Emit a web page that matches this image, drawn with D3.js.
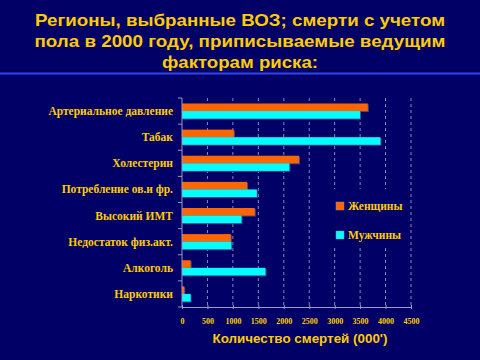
<!DOCTYPE html>
<html><head><meta charset="utf-8">
<script src="https://cdn.jsdelivr.net/npm/d3@7"></script>
<style>html,body{margin:0;padding:0;background:#000066;}svg{display:block;}</style>
</head><body>
<svg id="c" width="480" height="360"></svg>
<script>
const categories = ["Артериальное давление","Табак","Холестерин","Потребление ов.и фр.","Высокий ИМТ","Недостаток физ.акт.","Алкоголь","Наркотики"];
const women = [3650, 1020, 2300, 1280, 1430, 960, 170, 45];
const men = [3500, 3900, 2110, 1470, 1170, 970, 1640, 170];
const seriesNames = ["Женщины","Мужчины"];
const xTicks = [0,500,1000,1500,2000,2500,3000,3500,4000,4500];
const titleLines = ["Регионы, выбранные ВОЗ; смерти с учетом","пола в 2000 году, приписываемые ведущим","факторам риска:"];
const xTitle = "Количество смертей (000')";

const gold = "#FFCC00", orange = "#FF6600", cyan = "#00FFFF";
const svg = d3.select("#c");
svg.append("rect").attr("width",480).attr("height",360).attr("fill","#000066");

// title
const titleW = [410, 411, 156];
svg.append("g").selectAll("text").data(titleLines).join("text")
  .attr("x",240).attr("y",(d,i)=>25.5+i*21).attr("text-anchor","middle")
  .attr("font-family","Liberation Sans, Arial, sans-serif").attr("font-weight","bold")
  .attr("font-size",17).attr("fill",gold)
  .attr("textLength",(d,i)=>titleW[i]).attr("lengthAdjust","spacingAndGlyphs").text(d=>d);
svg.append("rect").attr("x",0).attr("y",72.5).attr("width",480).attr("height",2).attr("fill","#3344EE");

const x0=182, x1=411, yTop=98, yBot=307;
const x = d3.scaleLinear().domain([0,4500]).range([x0,x1]);
const y = d3.scaleBand().domain(categories).range([yTop,yBot]).paddingInner(0.42).paddingOuter(0.21);

// gridlines
const grid = svg.append("g");
xTicks.filter(t=>t>0).forEach(t=>{
  const gx = x(t);
  const segs = (t>=3000 && t<=4000) ? [[yTop,189],[248,yBot]] : [[yTop,yBot]];
  segs.forEach(s=>grid.append("line").attr("x1",gx).attr("x2",gx).attr("y1",s[0]).attr("y2",s[1])
    .attr("stroke","#8888BB").attr("stroke-width",1).attr("stroke-dasharray","3,3"));
});

// bars
const bh = y.bandwidth()/2;
const bars = svg.append("g");
categories.forEach((c,i)=>{
  [[women[i],orange,0],[men[i],cyan,1]].forEach(([v,col,k])=>{
    const by = y(c)+k*bh;
    bars.append("rect").attr("x",x(0)+1).attr("y",by+1).attr("width",x(v)-x(0)).attr("height",bh)
      .attr("fill","#444488");
    bars.append("rect").attr("x",x(0)).attr("y",by).attr("width",x(v)-x(0)).attr("height",bh)
      .attr("fill",col);
  });
});

// y axis
const yAxis = d3.axisLeft(y).tickSize(0).tickFormat("");
const ya = svg.append("g").attr("transform",`translate(${x0},0)`).call(yAxis);
ya.select(".domain").attr("stroke","#9999CC").attr("d",`M0,${yTop}V${yBot}`);
const bounds = d3.range(0,categories.length+1).map(i=>yTop+i*(yBot-yTop)/categories.length);
svg.append("g").selectAll("line").data(bounds).join("line")
  .attr("x1",x0-4).attr("x2",x0).attr("y1",d=>d).attr("y2",d=>d).attr("stroke","#9999CC");
svg.append("g").selectAll("text").data(categories).join("text")
  .attr("x",173).attr("y",d=>y(d)+y.bandwidth()/2+4).attr("text-anchor","end")
  .attr("font-family","Liberation Serif, Times New Roman, serif").attr("font-weight","bold")
  .attr("font-size",11.5).attr("fill",gold).text(d=>d);

// x axis
const xAxis = d3.axisBottom(x).tickValues(xTicks).tickSize(4).tickSizeOuter(0).tickFormat(d3.format("d"));
const xa = svg.append("g").attr("transform",`translate(0,${yBot})`).call(xAxis);
xa.select(".domain").attr("stroke","#9999CC");
xa.selectAll(".tick line").attr("stroke","#9999CC").attr("y1",-2).attr("y2",2);
xa.selectAll(".tick text").attr("fill",gold).attr("y",11)
  .attr("font-family","Liberation Serif, Times New Roman, serif").attr("font-weight","bold").attr("font-size",8);

svg.append("text").attr("x",300).attr("y",343).attr("text-anchor","middle")
  .attr("font-family","Liberation Sans, Arial, sans-serif").attr("font-weight","bold")
  .attr("font-size",13.4).attr("fill",gold).text(xTitle);

// legend
const leg = svg.append("g");
[[orange,202],[cyan,231]].forEach(([col,ly],i)=>{
  leg.append("rect").attr("x",336).attr("y",ly).attr("width",8).attr("height",8).attr("fill",col).attr("stroke","#8888AA").attr("stroke-width",0.5);
  leg.append("text").attr("x",348).attr("y",ly+8).attr("font-family","Liberation Serif, Times New Roman, serif")
    .attr("font-weight","bold").attr("font-size",11.5).attr("fill",gold).text(seriesNames[i]);
});
</script>
</body></html>
